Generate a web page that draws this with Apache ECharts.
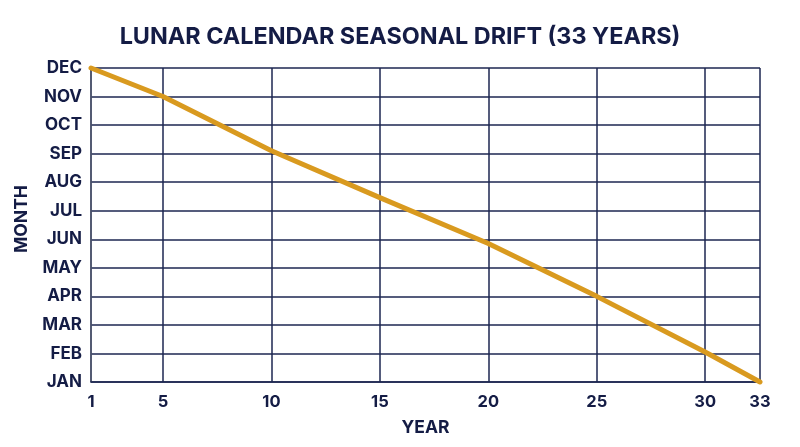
<!DOCTYPE html>
<html>
<head>
<meta charset="utf-8">
<script src="https://cdn.jsdelivr.net/npm/echarts@6/dist/echarts.min.js"></script>
<style>html,body{margin:0;padding:0;background:#fff}#c{width:800px;height:447px}</style>
</head>
<body>
<div id="c"></div>
<script>
// ---- data ----
const years = [1, 5, 10, 15, 20, 25, 30, 33];
const monthIndex = [11, 10, 8.1, 6.46, 4.85, 3, 1.05, 0]; // 0 = JAN ... 11 = DEC
const monthLabels = ['JAN','FEB','MAR','APR','MAY','JUN','JUL','AUG','SEP','OCT','NOV','DEC'];
const yearTicks = [1, 5, 10, 15, 20, 25, 30, 33];

// ---- style ----
const navy = '#141c45';
const gridColor = '#1c2650';
const lineColor = '#d99a1f';
const font = 'Inter, Roboto, "DejaVu Sans", sans-serif';
// the reference draws its first and last year ticks at the plot edges
const xMinVis = 1.68, xMaxVis = 32.53;
const toAxis = v => v === yearTicks[0] ? xMinVis : (v === yearTicks[yearTicks.length - 1] ? xMaxVis : v);
const tickPositions = yearTicks.map(toAxis);

const chart = echarts.init(document.getElementById('c'), null, {renderer: 'canvas'});
chart.setOption({
  backgroundColor: '#ffffff',
  animation: false,
  title: {
    text: 'LUNAR CALENDAR SEASONAL DRIFT (33 YEARS)',
    left: 'center', top: 20,
    textStyle: {fontFamily: font, fontWeight: 'bold', fontSize: 23.4, color: navy}
  },
  grid: {left: 91, right: 40, top: 68, bottom: 65, containLabel: false},
  xAxis: {
    type: 'value',
    min: xMinVis, max: xMaxVis,
    name: 'YEAR', nameLocation: 'middle', nameGap: 37,
    nameTextStyle: {fontFamily: font, fontWeight: 'bold', fontSize: 17.5, color: navy},
    axisLine: {show: true, lineStyle: {color: gridColor, width: 1.5}},
    axisTick: {show: false, customValues: tickPositions},
    axisLabel: {
      customValues: tickPositions,
      margin: 12,
      fontFamily: font, fontWeight: 'bold', fontSize: 16.5, color: navy,
      formatter: function (v) {
        const i = tickPositions.findIndex(t => Math.abs(t - v) < 1e-6);
        return i >= 0 ? String(yearTicks[i]) : '';
      }
    },
    splitLine: {show: true, lineStyle: {color: gridColor, width: 1.5}}
  },
  yAxis: {
    type: 'value',
    min: 0, max: 11, interval: 1,
    name: 'MONTH', nameLocation: 'middle', nameGap: 60, nameRotate: 90,
    nameTextStyle: {fontFamily: font, fontWeight: 'bold', fontSize: 17.5, color: navy, padding: [0, 0, 0, 12]},
    axisLine: {show: true, lineStyle: {color: '#555b70', width: 1.5}},
    axisTick: {show: false},
    axisLabel: {
      margin: 9,
      fontFamily: font, fontWeight: 'bold', fontSize: 17, color: navy,
      formatter: v => monthLabels[Math.round(v)] || ''
    },
    splitLine: {show: true, lineStyle: {color: gridColor, width: 1.5}}
  },
  series: [{
    type: 'line',
    data: years.map((y, i) => [toAxis(y), monthIndex[i]]),
    showSymbol: false,
    clip: false,
    lineStyle: {color: lineColor, width: 5, cap: 'round'},
    itemStyle: {color: lineColor}
  }]
});
</script>
</body>
</html>
